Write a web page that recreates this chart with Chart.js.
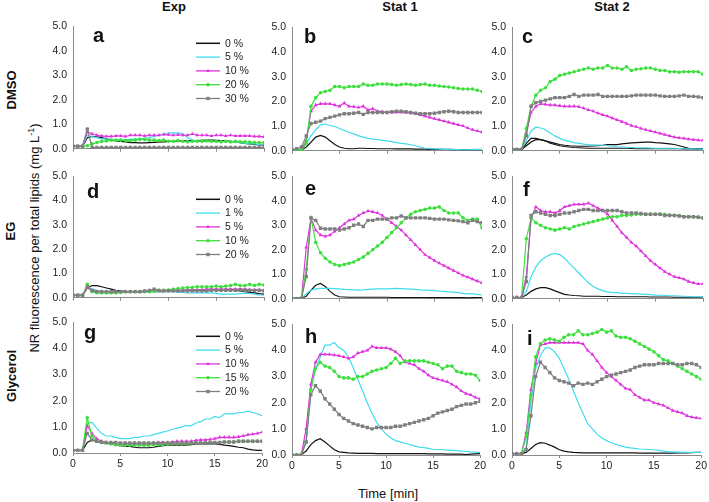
<!DOCTYPE html>
<html>
<head>
<meta charset="utf-8">
<script src="https://cdn.jsdelivr.net/npm/chart.js@4.4.0/dist/chart.umd.min.js"></script>
<style>
  body { margin: 0; background: #fff; }
  #wrap { position: relative; width: 709px; height: 502px; overflow: hidden; background: #fff;
          font-family: "Liberation Sans", Arial, sans-serif; color: #111; }
  #wrap canvas { position: absolute; }
  .lbl { position: absolute; white-space: nowrap; line-height: 1; }
  .col { font-weight: bold; font-size: 13px; transform: translateX(-50%); }
  .row { font-weight: bold; font-size: 13px; transform: translate(-50%, -50%) rotate(-90deg); }
  .tag { font-weight: bold; font-size: 20px; }
  .ytitle { font-size: 13px; transform: translate(-50%, -50%) rotate(-90deg); }
  .ytitle sup { font-size: 9px; line-height: 0; vertical-align: 5px; }
  .xtitle { font-size: 13px; transform: translateX(-50%); }
</style>
</head>
<body>
<div id="wrap">
  <div class="lbl col" style="left:174px;top:0px">Exp</div>
  <div class="lbl col" style="left:400px;top:0px">Stat 1</div>
  <div class="lbl col" style="left:612px;top:0px">Stat 2</div>
  <div class="lbl row" style="left:11px;top:90px">DMSO</div>
  <div class="lbl row" style="left:10px;top:231px">EG</div>
  <div class="lbl row" style="left:11px;top:376px">Glycerol</div>
  <div class="lbl ytitle" style="left:34px;top:238px">NR fluorescence per total lipids (mg L<sup>-1</sup>)</div>
  <div class="lbl xtitle" style="left:388px;top:487px">Time [min]</div>
</div>
<script>
// time axis (min), one reading every 0.5 min
const times = [0,0.5,1,1.5,2,2.5,3,3.5,4,4.5,5,5.5,6,6.5,7,7.5,8,8.5,9,9.5,10,
  10.5,11,11.5,12,12.5,13,13.5,14,14.5,15,15.5,16,16.5,17,17.5,18,18.5,19,19.5,20];
const yTicks = [0,1,2,3,4,5];
const xTicks = [0,5,10,15,20];

const colTitles = ["Exp", "Stat 1", "Stat 2"];
const rowTitles = ["DMSO", "EG", "Glycerol"];
const dmsoNames = ["0 %", "5 %", "10 %", "20 %", "30 %"];
const egNames = ["0 %", "1 %", "5 %", "10 %", "20 %"];
const glyNames = ["0 %", "5 %", "10 %", "15 %", "20 %"];

// --- DMSO, Exp (a) ---
const a0 = [0.1,0.1,0.1,0.45,0.5,0.48,0.45,0.4,0.35,0.32, 0.3,0.28,0.25,0.25,0.24,0.24,0.25,0.26,0.27,0.28, 0.3,0.3,0.3,0.32,0.32,0.33,0.33,0.34,0.35,0.35, 0.34,0.33,0.32,0.3,0.28,0.25,0.22,0.2,0.18,0.16, 0.15];
const a5 = [0.1,0.1,0.1,0.55,0.5,0.45,0.4,0.4,0.38,0.36, 0.35,0.36,0.38,0.4,0.4,0.42,0.45,0.5,0.55,0.6, 0.65,0.65,0.65,0.62,0.45,0.35,0.32,0.3,0.3,0.3, 0.3,0.3,0.3,0.3,0.28,0.25,0.22,0.2,0.2,0.17, 0.15];
const a10 = [0.1,0.1,0.1,0.7,0.6,0.55,0.52,0.5,0.5,0.52, 0.52,0.5,0.55,0.55,0.55,0.52,0.55,0.55,0.55,0.58, 0.57,0.55,0.57,0.55,0.55,0.6,0.55,0.55,0.55,0.52, 0.55,0.55,0.52,0.55,0.52,0.52,0.52,0.52,0.5,0.5, 0.48];
const a20 = [0.1,0.1,0.1,0.12,0.2,0.25,0.3,0.32,0.35,0.35, 0.35,0.33,0.33,0.35,0.38,0.38,0.35,0.35,0.33,0.35, 0.3,0.3,0.33,0.3,0.28,0.3,0.3,0.3,0.32,0.3, 0.3,0.28,0.3,0.28,0.3,0.28,0.28,0.27,0.25,0.25, 0.25];
const a30 = [0.1,0.1,0.1,0.8,0.05,0.05,0.05,0.05,0.05,0.05, 0.05,0.05,0.05,0.05,0.05,0.05,0.05,0.05,0.05,0.05, 0.05,0.05,0.05,0.05,0.05,0.05,0.05,0.05,0.05,0.05, 0.05,0.05,0.05,0.05,0.05,0.05,0.05,0.05,0.05,0.05, 0.05];

// --- DMSO, Stat 1 (b) ---
const b0 = [0.02,0.02,0.02,0.15,0.35,0.55,0.62,0.55,0.4,0.25, 0.15,0.1,0.08,0.08,0.1,0.1,0.09,0.09,0.08,0.08, 0.08,0.08,0.07,0.07,0.07,0.07,0.06,0.06,0.06,0.05, 0.05,0.05,0.05,0.05,0.04,0.04,0.03,0.03,0.04,0.04, 0.04];
const b5 = [0.02,0.02,0.02,0.3,0.6,0.85,1.05,1.08,1.02,0.98, 0.9,0.82,0.75,0.68,0.6,0.55,0.5,0.47,0.45,0.42, 0.4,0.37,0.33,0.3,0.28,0.24,0.2,0.15,0.1,0.08, 0.07,0.06,0.05,0.05,0.05,0.04,0.03,0.03,0.05,0.05, 0.05];
const b10 = [0,0,0.05,0.4,1.6,1.85,1.9,1.9,1.9,1.85, 1.8,1.93,1.8,1.78,1.75,1.8,1.65,1.7,1.6,1.58, 1.55,1.55,1.55,1.55,1.55,1.52,1.5,1.45,1.4,1.35, 1.3,1.25,1.2,1.15,1.1,1.05,1.0,0.92,0.85,0.8, 0.75];
const b20 = [0,0,0.02,0.3,1.8,2.15,2.35,2.4,2.45,2.6, 2.6,2.55,2.6,2.6,2.6,2.7,2.65,2.65,2.7,2.7, 2.7,2.68,2.65,2.68,2.7,2.68,2.65,2.68,2.7,2.65, 2.65,2.62,2.6,2.58,2.55,2.52,2.5,2.5,2.5,2.45, 2.4];
const b30 = [0.05,0.08,0.15,0.6,1.1,1.15,1.2,1.3,1.35,1.4, 1.45,1.5,1.5,1.52,1.55,1.47,1.55,1.55,1.55,1.55, 1.55,1.58,1.6,1.6,1.58,1.55,1.52,1.5,1.5,1.5, 1.52,1.55,1.58,1.6,1.58,1.55,1.55,1.55,1.55,1.55, 1.55];

// --- DMSO, Stat 2 (c), two 0 % curves ---
const c0 = [0.05,0.05,0.05,0.3,0.5,0.5,0.45,0.4,0.35,0.3, 0.25,0.22,0.2,0.19,0.18,0.18,0.18,0.19,0.2,0.22, 0.25,0.25,0.25,0.28,0.3,0.32,0.33,0.34,0.35,0.35, 0.33,0.32,0.3,0.28,0.25,0.2,0.15,0.1,0.08,0.06, 0.05];
const c0b = [0.05,0.05,0.05,0.2,0.35,0.45,0.45,0.4,0.3,0.25, 0.2,0.17,0.15,0.13,0.12,0.11,0.1,0.1,0.1,0.1, 0.1,0.1,0.1,0.1,0.1,0.09,0.08,0.08,0.08,0.08, 0.08,0.08,0.08,0.08,0.08,0.08,0.07,0.07,0.07,0.07, 0.07];
const c5 = [0.05,0.05,0.05,0.4,0.8,0.95,0.92,0.85,0.72,0.6, 0.5,0.43,0.38,0.33,0.3,0.27,0.25,0.24,0.23,0.22, 0.2,0.18,0.16,0.15,0.14,0.13,0.12,0.12,0.12,0.11, 0.1,0.1,0.1,0.1,0.1,0.09,0.08,0.08,0.07,0.06, 0.05];
const c10 = [0.05,0.05,0.05,0.7,1.55,1.8,1.9,1.88,1.85,1.85, 1.82,1.8,1.8,1.8,1.78,1.72,1.65,1.6,1.52,1.45, 1.4,1.32,1.25,1.18,1.1,1.02,0.97,0.9,0.85,0.8, 0.75,0.7,0.65,0.6,0.55,0.52,0.5,0.47,0.45,0.43, 0.42];
const c20 = [0.05,0.05,0.05,0.9,1.8,2.25,2.45,2.55,2.8,2.9, 3.05,3.1,3.15,3.2,3.25,3.3,3.35,3.3,3.35,3.35, 3.45,3.35,3.35,3.3,3.4,3.25,3.3,3.32,3.35,3.35, 3.3,3.25,3.25,3.2,3.2,3.18,3.2,3.2,3.2,3.2, 3.1];
const c30 = [0.05,0.05,0.05,0.6,1.8,1.95,2.0,2.05,2.1,2.15, 2.15,2.15,2.2,2.28,2.2,2.25,2.25,2.25,2.28,2.2, 2.2,2.2,2.2,2.2,2.2,2.22,2.25,2.25,2.25,2.25, 2.25,2.22,2.2,2.2,2.2,2.22,2.25,2.2,2.2,2.18, 2.15];

// --- EG, Exp (d) ---
const d0 = [0.1,0.1,0.1,0.4,0.5,0.5,0.45,0.4,0.35,0.3, 0.28,0.25,0.25,0.25,0.25,0.25,0.25,0.25,0.25,0.25, 0.27,0.28,0.28,0.3,0.3,0.3,0.3,0.3,0.3,0.3, 0.3,0.3,0.3,0.3,0.3,0.28,0.25,0.22,0.2,0.17, 0.15];
const d1 = [0.1,0.1,0.1,0.45,0.35,0.3,0.25,0.25,0.25,0.25, 0.25,0.25,0.25,0.25,0.25,0.25,0.25,0.25,0.25,0.25, 0.25,0.25,0.22,0.22,0.2,0.2,0.2,0.2,0.2,0.2, 0.18,0.15,0.15,0.15,0.15,0.17,0.18,0.18,0.15,0.12, 0.1];
const d5 = [0.1,0.1,0.1,0.4,0.3,0.25,0.25,0.22,0.22,0.22, 0.25,0.25,0.25,0.25,0.25,0.25,0.27,0.28,0.28,0.3, 0.3,0.3,0.3,0.3,0.32,0.32,0.33,0.33,0.35,0.35, 0.35,0.35,0.35,0.35,0.35,0.35,0.35,0.33,0.32,0.32, 0.3];
const d10 = [0.1,0.1,0.1,0.55,0.25,0.2,0.2,0.2,0.2,0.2, 0.22,0.25,0.25,0.25,0.25,0.25,0.25,0.27,0.3,0.3, 0.32,0.35,0.38,0.4,0.42,0.42,0.45,0.45,0.45,0.45, 0.48,0.45,0.48,0.5,0.55,0.5,0.5,0.55,0.5,0.55, 0.52];
const d20 = [0.1,0.1,0.1,0.45,0.3,0.25,0.25,0.25,0.25,0.25, 0.25,0.25,0.25,0.25,0.25,0.28,0.3,0.35,0.3,0.28, 0.28,0.28,0.28,0.28,0.28,0.28,0.28,0.28,0.28,0.3, 0.3,0.3,0.3,0.3,0.3,0.32,0.3,0.3,0.3,0.3, 0.28];

// --- EG, Stat 1 (e) ---
const e0 = [0.02,0.02,0.02,0.1,0.35,0.55,0.62,0.5,0.3,0.15, 0.08,0.07,0.06,0.06,0.06,0.06,0.06,0.06,0.06,0.06, 0.06,0.05,0.05,0.05,0.05,0.05,0.05,0.05,0.05,0.04, 0.04,0.04,0.04,0.04,0.04,0.04,0.04,0.03,0.04,0.05, 0.05];
const e1 = [0.02,0.02,0.02,0.2,0.35,0.4,0.42,0.42,0.42,0.41, 0.4,0.38,0.37,0.36,0.35,0.36,0.38,0.39,0.4,0.4, 0.4,0.41,0.42,0.41,0.4,0.39,0.38,0.36,0.35,0.34, 0.33,0.31,0.3,0.28,0.27,0.25,0.22,0.2,0.2,0.18, 0.15];
const e5 = [0,0,0.02,2.1,3.3,2.8,2.6,2.55,2.6,2.75, 2.9,3.05,3.2,3.25,3.4,3.5,3.58,3.55,3.5,3.4, 3.25,3.1,2.95,2.8,2.6,2.4,2.2,2.0,1.8,1.68, 1.55,1.45,1.35,1.25,1.15,1.05,0.95,0.88,0.8,0.72, 0.65];
const e10 = [0,0,0.02,1.2,3.3,2.3,1.88,1.65,1.5,1.4, 1.35,1.4,1.45,1.5,1.6,1.7,1.85,2.0,2.15,2.3, 2.5,2.7,2.9,3.1,3.3,3.45,3.55,3.6,3.65,3.7, 3.7,3.75,3.6,3.5,3.5,3.5,3.3,3.2,3.25,3.25, 2.9];
const e20 = [0,0,0.02,0.9,3.3,3.2,2.88,2.85,2.85,2.85, 2.8,2.85,2.9,3.0,3.05,2.95,3.2,3.2,3.25,3.25, 3.25,3.3,3.3,3.38,3.3,3.3,3.3,3.3,3.3,3.28, 3.25,3.25,3.25,3.22,3.2,3.18,3.15,3.1,3.2,3.15, 3.1];

// --- EG, Stat 2 (f) ---
const f0 = [0.05,0.05,0.05,0.15,0.3,0.4,0.45,0.45,0.4,0.32, 0.25,0.18,0.15,0.13,0.12,0.1,0.1,0.1,0.1,0.09, 0.09,0.09,0.08,0.08,0.08,0.08,0.08,0.08,0.08,0.07, 0.07,0.07,0.07,0.07,0.06,0.06,0.06,0.06,0.06,0.06, 0.06];
const f1 = [0.05,0.05,0.05,0.3,0.9,1.3,1.55,1.7,1.8,1.85, 1.8,1.65,1.45,1.25,1.05,0.85,0.65,0.5,0.4,0.33, 0.28,0.26,0.25,0.23,0.22,0.21,0.2,0.19,0.18,0.17, 0.15,0.14,0.13,0.12,0.12,0.11,0.1,0.09,0.08,0.08, 0.07];
const f5 = [0.05,0.05,0.05,0.9,3.3,3.75,3.6,3.55,3.55,3.5, 3.6,3.75,3.8,3.85,3.85,3.85,3.9,3.8,3.7,3.6, 3.45,3.2,2.95,2.7,2.5,2.3,2.15,1.95,1.75,1.55, 1.4,1.25,1.1,1.0,0.9,0.85,0.8,0.7,0.65,0.6, 0.6];
const f10 = [0.05,0.05,0.05,2.45,3.3,3.1,3.0,2.9,2.85,2.8, 2.85,2.9,2.85,2.95,3.0,3.05,3.1,3.15,3.2,3.25, 3.3,3.35,3.35,3.4,3.4,3.42,3.45,3.45,3.45,3.45, 3.45,3.45,3.45,3.42,3.4,3.4,3.35,3.35,3.35,3.35, 3.3];
const f20 = [0.05,0.05,0.05,0.7,3.4,3.55,3.5,3.45,3.4,3.4, 3.45,3.5,3.5,3.55,3.6,3.65,3.65,3.6,3.6,3.6, 3.6,3.6,3.6,3.55,3.5,3.5,3.5,3.48,3.45,3.45, 3.45,3.45,3.4,3.4,3.4,3.38,3.35,3.35,3.35,3.32, 3.3];

// --- Glycerol, Exp (g) ---
const g0 = [0.1,0.1,0.1,0.4,0.5,0.45,0.4,0.38,0.35,0.32, 0.3,0.25,0.25,0.22,0.2,0.2,0.2,0.22,0.25,0.28, 0.3,0.3,0.3,0.3,0.3,0.32,0.35,0.35,0.35,0.35, 0.35,0.33,0.3,0.28,0.25,0.22,0.2,0.15,0.12,0.1, 0.1];
const g5 = [0.1,0.1,0.1,1.15,1.17,0.95,0.75,0.65,0.65,0.6, 0.55,0.55,0.55,0.6,0.6,0.65,0.65,0.7,0.75,0.8, 0.85,0.9,0.95,1.0,1.05,1.05,1.15,1.2,1.3,1.3, 1.4,1.35,1.5,1.5,1.5,1.55,1.55,1.6,1.55,1.5, 1.42];
const g10 = [0.1,0.1,0.1,1.05,0.75,0.55,0.45,0.4,0.35,0.32, 0.3,0.32,0.35,0.35,0.35,0.35,0.35,0.38,0.4,0.4, 0.4,0.42,0.45,0.45,0.45,0.45,0.48,0.5,0.5,0.52, 0.55,0.6,0.6,0.6,0.6,0.62,0.65,0.7,0.72,0.75, 0.8];
const g15 = [0.1,0.1,0.1,1.35,0.65,0.45,0.4,0.38,0.35,0.32, 0.3,0.3,0.3,0.3,0.3,0.3,0.3,0.32,0.32,0.32, 0.33,0.35,0.35,0.35,0.35,0.35,0.38,0.38,0.4,0.4, 0.4,0.4,0.42,0.42,0.42,0.45,0.45,0.45,0.45,0.45, 0.45];
const g20 = [0.1,0.1,0.1,0.75,0.5,0.45,0.42,0.4,0.4,0.4, 0.38,0.38,0.38,0.38,0.38,0.38,0.38,0.38,0.38,0.38, 0.38,0.38,0.38,0.38,0.38,0.38,0.38,0.38,0.38,0.4, 0.4,0.4,0.42,0.42,0.42,0.45,0.45,0.45,0.45,0.45, 0.45];

// --- Glycerol, Stat 1 (h) ---
const h0 = [0.02,0.02,0.02,0.15,0.4,0.55,0.62,0.5,0.35,0.2, 0.12,0.1,0.08,0.07,0.06,0.06,0.06,0.06,0.05,0.05, 0.05,0.05,0.05,0.05,0.05,0.05,0.05,0.05,0.05,0.04, 0.04,0.04,0.04,0.03,0.03,0.03,0.03,0.02,0.03,0.04, 0.05];
const h5 = [0.02,0.02,0.02,0.5,2.5,3.3,3.75,4.2,4.2,4.3, 4.1,4.0,3.75,3.35,2.9,2.45,2.0,1.6,1.25,1.0, 0.8,0.65,0.55,0.5,0.45,0.4,0.35,0.3,0.28,0.25, 0.22,0.21,0.2,0.19,0.18,0.17,0.15,0.14,0.12,0.11, 0.1];
const h10 = [0,0,0.02,1.0,2.7,3.55,3.85,3.85,3.85,3.82, 3.8,3.75,3.7,3.75,3.9,3.95,4.0,4.15,4.1,4.1, 4.1,4.05,3.95,3.8,3.55,3.5,3.45,3.3,3.2,3.05, 2.95,2.9,2.85,2.8,2.7,2.6,2.45,2.35,2.3,2.2, 2.15];
const h15 = [0,0,0.02,0.5,2.5,3.3,3.55,3.4,3.35,3.2, 3.0,2.95,2.95,2.9,3.0,3.0,3.1,3.2,3.25,3.3, 3.35,3.5,3.7,3.5,3.6,3.6,3.6,3.6,3.6,3.55, 3.5,3.45,3.3,3.4,3.4,3.2,3.15,3.1,3.1,3.05, 2.85];
const h20 = [0,0,0.02,0.5,2.3,2.65,2.45,2.15,1.95,1.75, 1.55,1.4,1.3,1.2,1.15,1.1,1.05,1.0,1.05,1.05, 1.05,1.05,1.1,1.1,1.15,1.2,1.25,1.3,1.35,1.4, 1.5,1.6,1.65,1.7,1.75,1.85,1.9,1.95,1.95,2.0, 2.05];

// --- Glycerol, Stat 2 (i) ---
const i0 = [0.05,0.05,0.05,0.1,0.25,0.4,0.47,0.45,0.38,0.3, 0.2,0.15,0.12,0.1,0.09,0.08,0.08,0.08,0.08,0.08, 0.08,0.08,0.08,0.08,0.08,0.08,0.08,0.07,0.07,0.07, 0.07,0.07,0.07,0.07,0.07,0.08,0.08,0.08,0.09,0.1, 0.1];
const i5 = [0.05,0.05,0.05,0.3,2.0,3.3,3.8,4.1,4.1,3.95, 3.7,3.3,2.9,2.45,2.0,1.6,1.2,1.0,0.8,0.65, 0.55,0.47,0.4,0.35,0.3,0.27,0.25,0.23,0.22,0.21, 0.2,0.18,0.15,0.13,0.12,0.11,0.1,0.1,0.1,0.1, 0.1];
const i10 = [0.05,0.05,0.05,0.85,2.5,3.5,4.2,4.25,4.3,4.3, 4.3,4.3,4.3,4.3,4.3,4.25,4.0,3.85,3.6,3.35, 3.15,3.0,2.85,2.7,2.55,2.5,2.3,2.2,2.1,2.1, 2.0,1.95,1.9,1.8,1.7,1.65,1.6,1.5,1.45,1.42, 1.4];
const i15 = [0.05,0.05,0.05,0.7,2.3,3.75,4.25,4.4,4.45,4.4, 4.35,4.5,4.6,4.6,4.75,4.6,4.6,4.65,4.7,4.8, 4.7,4.75,4.55,4.5,4.5,4.45,4.35,4.25,4.15,4.05, 3.95,3.8,3.65,3.6,3.5,3.4,3.3,3.2,3.1,3.0, 2.9];
const i20 = [0.05,0.05,0.05,0.2,1.5,3.0,3.55,3.35,3.15,2.95, 2.85,2.8,2.75,2.65,2.75,2.7,2.75,2.7,2.8,2.9, 3.0,3.05,3.1,3.15,3.2,3.25,3.35,3.4,3.45,3.45, 3.45,3.5,3.5,3.5,3.5,3.45,3.45,3.5,3.5,3.45, 3.35];

// line styles, in series order (0 %, low, mid, high, highest)
const styles = [
  { color: "#111111", style: false, r: 0, w: 1.2 },
  { color: "#3fdcee", style: false, r: 0, w: 1.2 },
  { color: "#e033dd", style: "triangle", r: 2.2, w: 1.2 },
  { color: "#3ddf3d", style: "circle", r: 1.8, w: 1.2 },
  { color: "#7f7f7f", style: "rect", r: 2.4, w: 1.2 }
];

const font = { family: "'Liberation Sans', Arial, sans-serif", size: 10.5 };
const tickColor = "#222";
const axisColor = "#8a8a8a";

// plot boxes (pixel edges of x=0..20, y=0..5)
const panels = [
  { tag: "a", left: 73, right: 264, top: 24, bottom: 156, series: [a0, a5, a10, a20, a30], names: dmsoNames, leg: 17, tx: 93, ty: 25 },
  { tag: "b", left: 292, right: 482, top: 25, bottom: 158, series: [b0, b5, b10, b20, b30], tx: 304, ty: 26 },
  { tag: "c", left: 512, right: 703, top: 25, bottom: 158, series: [c0, c5, c10, c20, c30], extra: c0b, tx: 522, ty: 26 },
  { tag: "d", left: 73, right: 264, top: 174, bottom: 305, series: [d0, d1, d5, d10, d20], names: egNames, leg: 23, tx: 87, ty: 181 },
  { tag: "e", left: 292, right: 482, top: 174, bottom: 306, series: [e0, e1, e5, e10, e20], tx: 305, ty: 178 },
  { tag: "f", left: 512, right: 703, top: 174, bottom: 306, series: [f0, f1, f5, f10, f20], tx: 523, ty: 179 },
  { tag: "g", left: 73, right: 264, top: 320, bottom: 453, series: [g0, g5, g10, g15, g20], names: glyNames, leg: 14, tx: 84, ty: 322, bottomRow: true },
  { tag: "h", left: 292, right: 482, top: 322, bottom: 455, series: [h0, h5, h10, h15, h20], tx: 305, ty: 326, bottomRow: true },
  { tag: "i", left: 512, right: 703, top: 322, bottom: 455, series: [i0, i5, i10, i15, i20], tx: 527, ty: 328, bottomRow: true }
];

function drawMark(ctx, st, x, y) {
  if (!st.style) return;
  const r = st.r;
  ctx.beginPath();
  if (st.style === "circle") ctx.arc(x, y, r, 0, Math.PI * 2);
  else if (st.style === "rect") { const s = r * Math.SQRT1_2; ctx.rect(x - s, y - s, 2 * s, 2 * s); }
  else { ctx.moveTo(x, y - r); ctx.lineTo(x + r * 0.87, y + r * 0.5); ctx.lineTo(x - r * 0.87, y + r * 0.5); ctx.closePath(); }
  ctx.fill();
}

// legend drawn inside the plot of the Exp panels
const inLegend = {
  id: "inLegend",
  afterDatasetsDraw(chart, args, opts) {
    if (!opts.names) return;
    const { ctx, chartArea } = chart;
    ctx.save();
    ctx.font = "10.5px 'Liberation Sans', Arial, sans-serif";
    ctx.textBaseline = "middle";
    opts.names.forEach((name, k) => {
      const st = styles[k];
      const x0 = chartArea.left + 123, y = chartArea.top + opts.y + k * 13.8;
      ctx.strokeStyle = st.color;
      ctx.fillStyle = st.color;
      ctx.lineWidth = k === 0 ? 1.5 : 1.3;
      ctx.beginPath(); ctx.moveTo(x0, y); ctx.lineTo(x0 + 24, y); ctx.stroke();
      drawMark(ctx, st, x0 + 12, y);
      ctx.fillStyle = "#222";
      ctx.fillText(name, x0 + 29, y + 0.5);
    });
    ctx.restore();
  }
};

function toPoints(vals) {
  return times.map((t, k) => ({ x: t, y: vals[k] }));
}

function makeDataset(vals, st, order) {
  return {
    data: toPoints(vals),
    borderColor: st.color,
    backgroundColor: st.color,
    borderWidth: st.w,
    pointStyle: st.style || "circle",
    pointRadius: st.r,
    pointBorderWidth: 0,
    pointBackgroundColor: st.color,
    tension: 0,
    order: order
  };
}

const wrap = document.getElementById("wrap");

panels.forEach(p => {
  const yw = 34, padT = 10, padR = 6;
  const xh = p.bottomRow ? 24 : 5;
  const w = p.right - p.left + yw + padR;
  const h = p.bottom - p.top + padT + xh;
  const canvas = document.createElement("canvas");
  canvas.width = w; canvas.height = h;
  canvas.style.left = (p.left - yw) + "px";
  canvas.style.top = (p.top - padT) + "px";
  canvas.style.width = w + "px";
  canvas.style.height = h + "px";
  wrap.appendChild(canvas);

  const datasets = p.series.map((vals, k) => makeDataset(vals, styles[k], 4 - k));
  if (p.extra) datasets.unshift(makeDataset(p.extra, styles[0], 5));

  new Chart(canvas, {
    type: "line",
    data: { datasets: datasets },
    options: {
      responsive: false,
      animation: false,
      events: [],
      layout: { padding: { top: padT, right: padR, left: 0, bottom: 0 } },
      plugins: {
        legend: { display: false },
        tooltip: { enabled: false },
        inLegend: { names: p.names, y: p.leg }
      },
      scales: {
        x: {
          type: "linear", min: 0, max: 20,
          afterFit: s => { s.height = xh; },
          afterBuildTicks: s => { s.ticks = xTicks.map(v => ({ value: v })); },
          ticks: { display: !!p.bottomRow, font: font, color: tickColor, padding: 2, maxRotation: 0 },
          grid: { drawOnChartArea: false, drawTicks: true, tickLength: 3, color: axisColor },
          border: { color: axisColor, width: 1 }
        },
        y: {
          min: 0, max: 5,
          afterFit: s => { s.width = yw; },
          afterBuildTicks: s => { s.ticks = yTicks.map(v => ({ value: v })); },
          ticks: { font: font, color: tickColor, padding: 6, callback: v => Number(v).toFixed(1) },
          grid: { drawOnChartArea: false, drawTicks: false },
          border: { color: axisColor, width: 1 }
        }
      }
    },
    plugins: [inLegend]
  });

  const tag = document.createElement("div");
  tag.className = "lbl tag";
  tag.style.left = p.tx + "px";
  tag.style.top = p.ty + "px";
  tag.textContent = p.tag;
  wrap.appendChild(tag);
});
</script>
</body>
</html>
